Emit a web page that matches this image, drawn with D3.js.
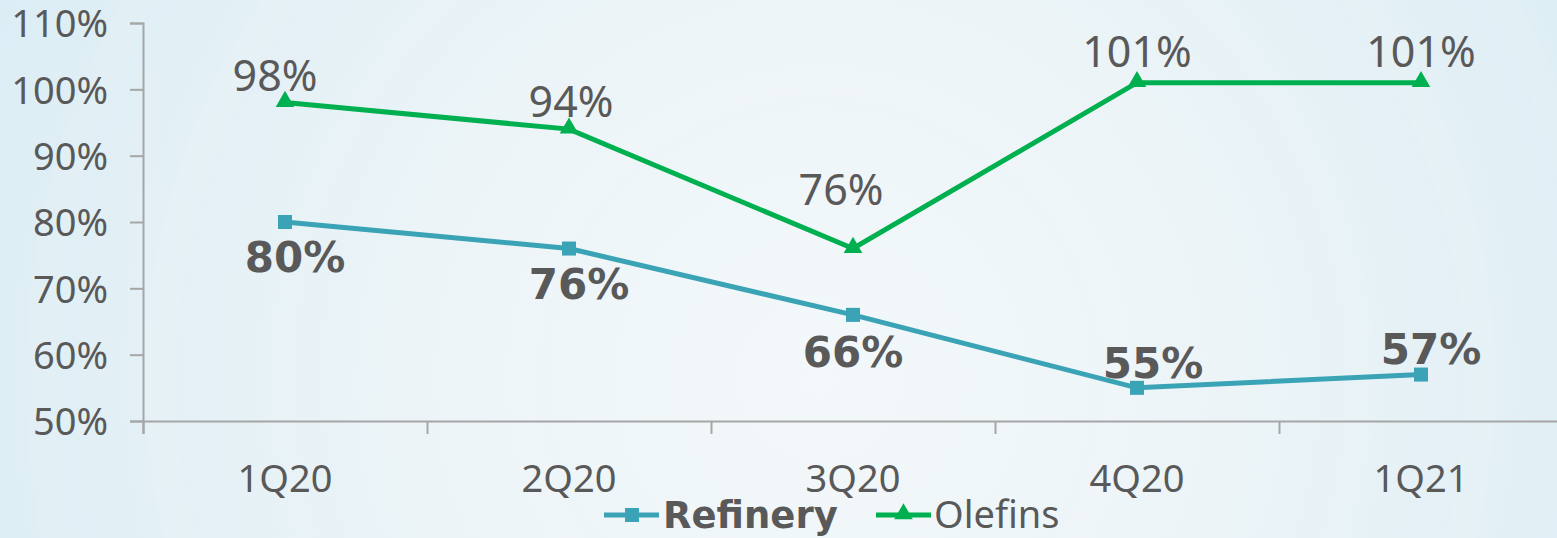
<!DOCTYPE html>
<html>
<head>
<meta charset="utf-8">
<script src="https://cdn.jsdelivr.net/npm/d3@7"></script>
<style>
  html, body { margin: 0; padding: 0; }
  body { width: 1557px; height: 538px; overflow: hidden; }
  text { font-family: "Noto Sans", "DejaVu Sans", sans-serif; fill: #595959; }
  text.bold { font-family: "DejaVu Sans", sans-serif; font-weight: bold; }
</style>
</head>
<body>
<div id="chart"></div>
<script>
var quarters = ["1Q20", "2Q20", "3Q20", "4Q20", "1Q21"];
var refinery = [80, 76, 66, 55, 57];
var olefins = [98, 94, 76, 101, 101];
var yTicks = [50, 60, 70, 80, 90, 100, 110];

// label offsets from the point (dx, baseline dy), as placed in the original
var refineryLabelPos = [[10, 50], [10, 50], [0, 52], [16, -10], [10, -11]];
var olefinsLabelPos = [[-10, -12], [2, -12], [-12, -44], [0, -16], [0, -16]];

var W = 1557, H = 538;
var margin = { top: 23, right: -6, bottom: 117, left: 143 };

var svg = d3.select("#chart").append("svg")
  .attr("width", W)
  .attr("height", H);

// background
var defs = svg.append("defs");
var grad = defs.append("radialGradient")
  .attr("id", "bg")
  .attr("gradientUnits", "userSpaceOnUse")
  .attr("cx", 820).attr("cy", 380).attr("r", 900);
grad.append("stop").attr("offset", "0%").attr("stop-color", "#f3f8fa");
grad.append("stop").attr("offset", "45%").attr("stop-color", "#ecf4f7");
grad.append("stop").attr("offset", "100%").attr("stop-color", "#dcedf5");
svg.append("rect").attr("width", W).attr("height", H).attr("fill", "url(#bg)");

// faint rings
[300, 420, 540, 660, 780].forEach(function(r) {
  svg.append("circle")
    .attr("cx", 820).attr("cy", 380).attr("r", r)
    .attr("fill", "none")
    .attr("stroke", "#ffffff")
    .attr("stroke-opacity", 0.08)
    .attr("stroke-width", 30);
});

var x = d3.scaleBand()
  .domain(quarters)
  .range([margin.left, W - margin.right]);

var xEdge = d3.scaleLinear()
  .domain([0, quarters.length])
  .range([margin.left, W - margin.right]);

var y = d3.scaleLinear()
  .domain([50, 110])
  .range([H - margin.bottom, margin.top]);

var axisColor = "#a6a6a6";

// y axis
var yAxis = svg.append("g")
  .attr("transform", "translate(" + margin.left + ",0)")
  .call(d3.axisLeft(y).tickValues(yTicks).tickSize(13).tickPadding(22)
    .tickFormat(function(d) { return d + "%"; }));
yAxis.select(".domain").attr("stroke", axisColor).attr("stroke-width", 2);
yAxis.selectAll(".tick line").attr("stroke", axisColor).attr("stroke-width", 2);
yAxis.selectAll(".tick text")
  .attr("font-size", 38)
  .attr("fill", "#595959")
  .attr("dy", "0.36em");

// x axis (ticks between categories)
var xAxis = svg.append("g")
  .attr("transform", "translate(0," + y(50) + ")")
  .call(d3.axisBottom(xEdge).ticks(quarters.length).tickSize(13).tickFormat(""));
xAxis.select(".domain").attr("stroke", axisColor).attr("stroke-width", 2);
xAxis.selectAll(".tick line").attr("stroke", axisColor).attr("stroke-width", 2);

svg.append("g").selectAll("text")
  .data(quarters)
  .join("text")
  .attr("x", function(d) { return x(d) + x.bandwidth() / 2; })
  .attr("y", y(50) + 71)
  .attr("text-anchor", "middle")
  .attr("font-size", 38)
  .text(function(d) { return d; });

var refColor = "#3aa3b6";
var oleColor = "#00b050";

function cx(i) { return x(quarters[i]) + x.bandwidth() / 2; }

var line = d3.line()
  .x(function(d, i) { return cx(i); })
  .y(function(d) { return y(d); });

// refinery
svg.append("path")
  .datum(refinery)
  .attr("fill", "none")
  .attr("stroke", refColor)
  .attr("stroke-width", 5)
  .attr("d", line);
svg.append("g").selectAll("rect")
  .data(refinery)
  .join("rect")
  .attr("x", function(d, i) { return cx(i) - 7; })
  .attr("y", function(d) { return y(d) - 7; })
  .attr("width", 14).attr("height", 14)
  .attr("fill", refColor);

// olefins
svg.append("path")
  .datum(olefins)
  .attr("fill", "none")
  .attr("stroke", oleColor)
  .attr("stroke-width", 5)
  .attr("d", line);
var tri = d3.symbol().type(d3.symbolTriangle).size(150);
svg.append("g").selectAll("path")
  .data(olefins)
  .join("path")
  .attr("d", tri)
  .attr("transform", function(d, i) { return "translate(" + cx(i) + "," + (y(d) - 1) + ")"; })
  .attr("fill", oleColor);

// data labels
svg.append("g").selectAll("text")
  .data(olefins)
  .join("text")
  .attr("x", function(d, i) { return cx(i) + olefinsLabelPos[i][0]; })
  .attr("y", function(d, i) { return y(d) + olefinsLabelPos[i][1]; })
  .attr("text-anchor", "middle")
  .attr("font-size", 43)
  .text(function(d) { return d + "%"; });

svg.append("g").selectAll("text")
  .data(refinery)
  .join("text")
  .attr("class", "bold")
  .attr("x", function(d, i) { return cx(i) + refineryLabelPos[i][0]; })
  .attr("y", function(d, i) { return y(d) + refineryLabelPos[i][1]; })
  .attr("text-anchor", "middle")
  .attr("font-size", 42)
  .text(function(d) { return d + "%"; });

// legend
var legend = svg.append("g").attr("transform", "translate(0,515)");
var l1 = legend.append("g").attr("transform", "translate(604,0)");
l1.append("line").attr("x1", 0).attr("x2", 55).attr("y1", 0).attr("y2", 0)
  .attr("stroke", refColor).attr("stroke-width", 5);
l1.append("rect").attr("x", 21).attr("y", -7).attr("width", 14).attr("height", 14).attr("fill", refColor);
l1.append("text").attr("class", "bold").attr("x", 59).attr("y", 13).attr("font-size", 37).text("Refinery");

var l2 = legend.append("g").attr("transform", "translate(876,0)");
l2.append("line").attr("x1", 0).attr("x2", 55).attr("y1", 0).attr("y2", 0)
  .attr("stroke", oleColor).attr("stroke-width", 5);
l2.append("path").attr("d", tri).attr("transform", "translate(27.5,-1)").attr("fill", oleColor);
l2.append("text").attr("x", 58).attr("y", 13).attr("font-size", 38).text("Olefins");
</script>
</body>
</html>
